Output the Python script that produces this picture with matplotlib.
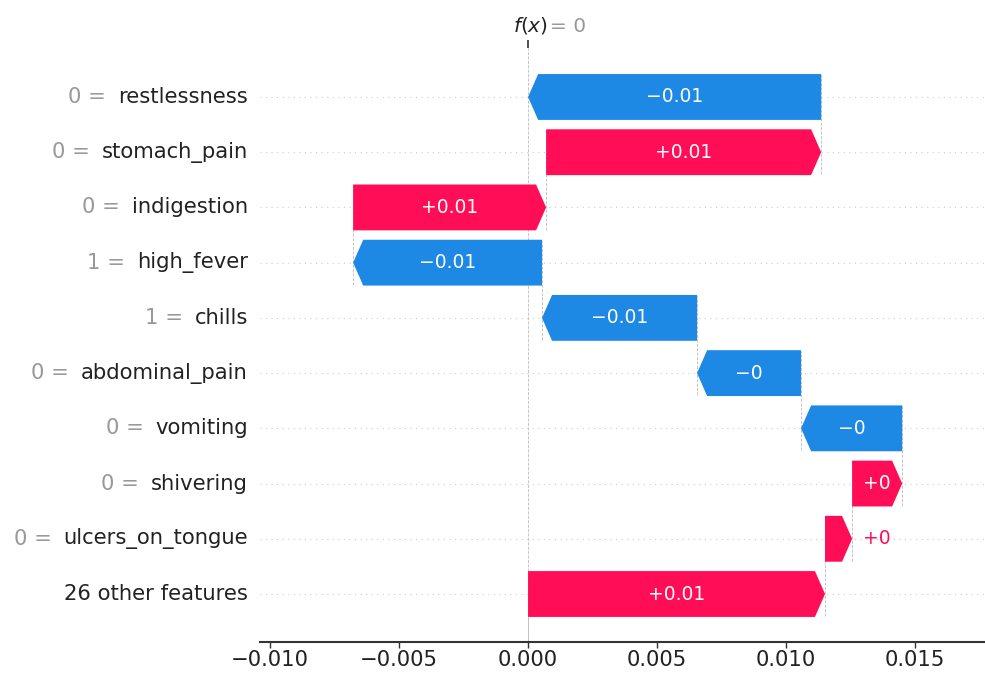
import matplotlib
matplotlib.use("Agg")
import matplotlib.pyplot as plt
from matplotlib.patches import Polygon

# 数据：从上到下的特征、特征取值、SHAP 值
features = ["restlessness", "stomach_pain", "indigestion", "high_fever", "chills",
            "abdominal_pain", "vomiting", "shivering", "ulcers_on_tongue", "26 other features"]
feature_values = ["0", "0", "0", "1", "1", "0", "0", "0", "0", None]
shap_values = [-0.01136, 0.01066, 0.00748, -0.00732, -0.00601,
               -0.00403, -0.00392, 0.00194, 0.00105, 0.01151]
base_value = 0.0
x_ticks = [-0.010, -0.005, 0.000, 0.005, 0.010, 0.015]

pos_color = "#ff0d57"
neg_color = "#1e88e5"

def fmt(v):
    s = "%+0.02f" % v
    s = s.rstrip("0").rstrip(".")
    return s.replace("-", "\u2212")

fig = plt.figure(figsize=(9.85, 6.73), dpi=100)
ax = fig.add_axes([260/985, 31/673, 725/985, 594/673])
ax.set_xlim(-0.01039, 0.01771)
ax.set_ylim(-0.869, 9.887)

n = len(features)
bar_h = 0.83
head = 0.00039

# 从底部开始累加
start = base_value
starts = [0]*n
for k in range(n-1, -1, -1):
    starts[k] = start
    start += shap_values[k]
fx = start

for k in range(n):
    y = n - 1 - k
    s = starts[k]
    d = shap_values[k]
    e = s + d
    col = pos_color if d > 0 else neg_color
    hl = min(head, abs(d))
    if d > 0:
        pts = [(s, y-bar_h/2), (e-hl, y-bar_h/2), (e, y), (e-hl, y+bar_h/2), (s, y+bar_h/2)]
    else:
        pts = [(s, y-bar_h/2), (e+hl, y-bar_h/2), (e, y), (e+hl, y+bar_h/2), (s, y+bar_h/2)]
    ax.add_patch(Polygon(pts, closed=True, facecolor=col, edgecolor="none", zorder=3))
    # 值标签
    if abs(d) > 0.0015:
        ax.text((s+e)/2, y, fmt(d), ha="center", va="center", color="white", fontsize=13.5, zorder=4)
    else:
        ax.annotate(fmt(d), xy=(max(s, e), y), xytext=(11, 0), textcoords="offset pixels",
                    ha="left", va="center", color=col, fontsize=13.5)
    # 横向网格与竖向连接线
    ax.axhline(y, color="#cccccc", lw=0.8, dashes=(1, 4), zorder=-1)
    ax.plot([s, s], [y-1-0.4, y+0.4], color="#bbbbbb", linestyle="--", lw=0.6, zorder=-1)
    # 左侧特征名
    name = ax.annotate(features[k], xy=(0, y), xycoords=("axes fraction", "data"),
                       xytext=(-12, 0), textcoords="offset pixels",
                       ha="right", va="center", fontsize=15.2, color="#222222")
    if feature_values[k] is not None:
        ax.annotate(feature_values[k] + " =", xy=(0, 0.5), xycoords=name,
                    xytext=(-12, 0), textcoords="offset pixels",
                    ha="right", va="center", fontsize=15.2, color="#999999")

ax.axvline(base_value, color="#bbbbbb", linestyle="--", lw=0.6, zorder=-1)

ax.set_xticks(x_ticks)
ax.set_xticklabels([("%0.3f" % t).replace("-", "\u2212") for t in x_ticks], fontsize=15.2)
ax.set_yticks([])
for sp in ["left", "right", "top"]:
    ax.spines[sp].set_visible(False)
ax.spines["bottom"].set_color("#333333")
ax.spines["bottom"].set_linewidth(1.5)
ax.tick_params(axis="x", length=4, width=1, pad=2, color="#333333", labelcolor="#222222")

# 顶部 f(x)
ax2 = ax.twiny()
ax2.set_xlim(ax.get_xlim())
ax2.set_xticks([fx])
ax2.set_xticklabels([""])
ax2.tick_params(axis="x", length=6, width=1.2, color="#333333")
for sp in ax2.spines.values():
    sp.set_visible(False)
ax.annotate("$f(x)$", xy=(fx, 1), xycoords=("data", "axes fraction"),
            xytext=(-15, 12), textcoords="offset pixels", ha="left", va="bottom",
            fontsize=14.5, color="#222222")
ax.annotate("= " + fmt(fx).lstrip("+").replace("\u2212", ""), xy=(fx, 1), xycoords=("data", "axes fraction"),
            xytext=(22, 12), textcoords="offset pixels", ha="left", va="bottom",
            fontsize=14.5, color="#999999")

fig.savefig("out.png", dpi=100)
